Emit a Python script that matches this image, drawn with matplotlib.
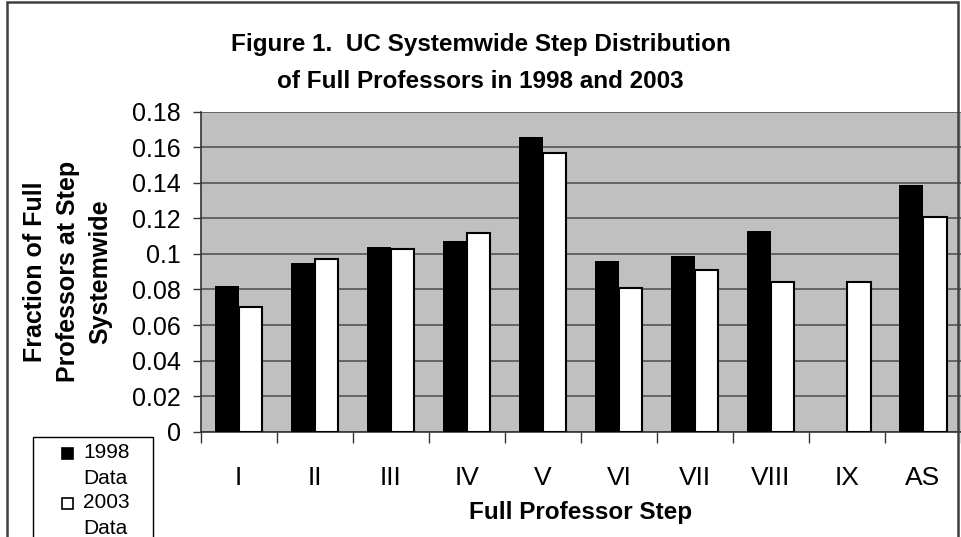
"""UC systemwide step distribution of full professors, 1998 vs 2003."""

import matplotlib

matplotlib.use("Agg")
import matplotlib.pyplot as plt
import numpy as np
from matplotlib.patches import Rectangle

steps = ["I", "II", "III", "IV", "V", "VI", "VII", "VIII", "IX", "AS"]
frac_1998 = [0.082, 0.095, 0.104, 0.107, 0.166, 0.096, 0.099, 0.113, 0.0, 0.139]
frac_2003 = [0.070, 0.097, 0.103, 0.112, 0.157, 0.081, 0.091, 0.084, 0.084, 0.121]
series_labels = ["1998\nData", "2003\nData"]
y_ticks = [0, 0.02, 0.04, 0.06, 0.08, 0.1, 0.12, 0.14, 0.16, 0.18]

plt.rcParams["font.family"] = ["Liberation Sans", "DejaVu Sans"]

W, H = 961, 537
fig = plt.figure(figsize=(W / 100, H / 100), dpi=100)
ax = fig.add_axes([200.7 / W, 105.3 / H, 760.3 / W, 320 / H])
ax.set_facecolor("#c0c0c0")

x = np.arange(len(steps))
bw = 0.31
ax.bar(x - bw / 2, frac_1998, bw, color="black", lw=0, zorder=3)
ax.bar(x + bw / 2, frac_2003, bw, color="white", edgecolor="black", lw=1.5, zorder=3)

ax.set_xlim(-0.5, len(steps) - 0.5)
ax.set_ylim(0, 0.18)
ax.set_yticks(y_ticks)
ax.set_yticklabels([f"{v:g}" for v in y_ticks], fontsize=18)
ax.yaxis.grid(True, color="#555555", lw=1.2, zorder=1)
ax.tick_params(axis="y", direction="out", length=6, width=1, color="#333333", pad=8.5)

# category boundaries get the tick marks, centres get the labels
ax.set_xticks(np.arange(len(steps) + 1) - 0.5)
ax.set_xticklabels([])
ax.tick_params(axis="x", which="major", direction="out", length=8, width=1, color="#333333")
ax.set_xticks(x, minor=True)
ax.set_xticklabels(steps, minor=True, fontsize=19)
ax.tick_params(axis="x", which="minor", length=0, pad=25)

for side in ("top", "right"):
    ax.spines[side].set_visible(False)
ax.spines["left"].set_color("#333333")
ax.spines["bottom"].set_color("#333333")
ax.spines["left"].set_linewidth(1.2)
ax.spines["bottom"].set_linewidth(1.2)

ax.set_xlabel("Full Professor Step", fontsize=17.5, fontweight="bold")
ax.xaxis.set_label_coords(0.5, (431.7 - 512) / 320)
ax.xaxis.label.set_va("center")
ax.set_ylabel("Fraction of Full\nProfessors at Step\nSystemwide",
              fontsize=18, fontweight="bold", linespacing=1.45)
ax.yaxis.set_label_coords((67.5 - 200.7) / 760.3, 0.5)
ax.yaxis.label.set_va("center")

fig.text(0.5, 1 - 45 / H, "Figure 1.  UC Systemwide Step Distribution",
         ha="center", va="center", fontsize=17.5, fontweight="bold")
fig.text(0.5, 1 - 82 / H, "of Full Professors in 1998 and 2003",
         ha="center", va="center", fontsize=17.5, fontweight="bold")

# outer chart border
fig.patches.append(Rectangle((7 / W, -0.05), 951 / W, 1.05 - 2 / H, transform=fig.transFigure,
                             fill=False, ec="#404040", lw=1.8))

# legend box
fig.patches.append(Rectangle((33 / W, -0.05), 120 / W, 0.05 + 100 / H, transform=fig.transFigure,
                             fill=False, ec="black", lw=1.0))
for i, (lab, fc) in enumerate(zip(series_labels, ["black", "white"])):
    top = 447.5 + i * 50
    fig.patches.append(Rectangle((62 / W, 1 - (top + 11) / H), 11 / W, 11 / H,
                                 transform=fig.transFigure, fc=fc, ec="black", lw=1.2))
    fig.text(83 / W, 1 - (top - 4) / H, lab, ha="left", va="top",
             fontsize=15, linespacing=1.45)

fig.savefig("out.png", dpi=100)
